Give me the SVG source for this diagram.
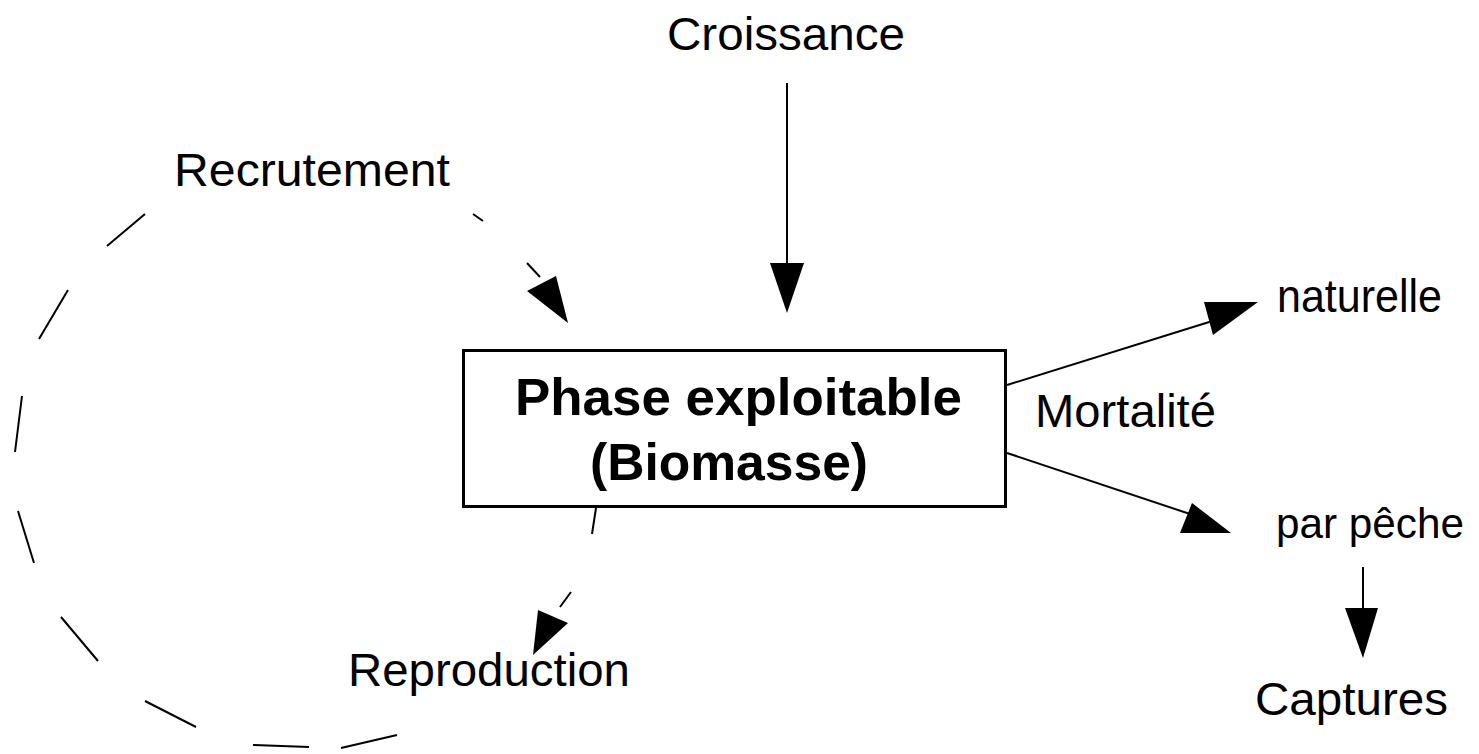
<svg xmlns="http://www.w3.org/2000/svg" width="1479" height="754" viewBox="0 0 1479 754">
<style>
.t{font-family:"Liberation Sans",Arial,sans-serif;font-size:47px;fill:#000}
.b{font-family:"Liberation Sans",Arial,sans-serif;font-size:52px;font-weight:bold;fill:#000}
.ln{stroke:#000;stroke-width:2;fill:none}
.ah{fill:#000;stroke:none}
</style>
<rect width="1479" height="754" fill="#fff"/>
<g id="box">
<rect x="463.5" y="350.5" width="542" height="156" fill="#fff" stroke="#000" stroke-width="3"/>
<text class="b" x="515" y="415" textLength="447" lengthAdjust="spacingAndGlyphs">Phase exploitable</text>
<text class="b" x="590" y="480" textLength="278" lengthAdjust="spacingAndGlyphs">(Biomasse)</text>
</g>
<g id="croissance"><text class="t" x="667" y="50" textLength="238" lengthAdjust="spacingAndGlyphs">Croissance</text></g>
<g id="recrutement"><text class="t" x="174" y="186" textLength="276" lengthAdjust="spacingAndGlyphs">Recrutement</text></g>
<g id="reproduction"><text class="t" x="348" y="686" textLength="282" lengthAdjust="spacingAndGlyphs">Reproduction</text></g>
<g id="mortalite"><text class="t" x="1035" y="427" textLength="181" lengthAdjust="spacingAndGlyphs">Mortalité</text></g>
<g id="naturelle"><text class="t" x="1277" y="312" textLength="165" lengthAdjust="spacingAndGlyphs">naturelle</text></g>
<g id="parpeche"><text class="t" x="1276" y="538" style="font-size:43px" textLength="188" lengthAdjust="spacingAndGlyphs">par pêche</text></g>
<g id="captures"><text class="t" x="1255" y="715" textLength="193" lengthAdjust="spacingAndGlyphs">Captures</text></g>
<g id="connectors">
<!-- Croissance -> box -->
<line class="ln" x1="787" y1="83" x2="787" y2="280"/>
<polygon class="ah" points="770,263 804,263 787,313"/>
<!-- box -> naturelle -->
<line class="ln" x1="1007" y1="385" x2="1222" y2="318"/>
<polygon class="ah" points="1204,302 1258,302 1213,335"/>
<!-- box -> par peche -->
<line class="ln" x1="1007" y1="453" x2="1196" y2="516"/>
<polygon class="ah" points="1192,503 1180,533 1231,533"/>
<!-- par peche -> Captures -->
<line class="ln" x1="1363" y1="567" x2="1363" y2="620"/>
<polygon class="ah" points="1345,608 1378,608 1363,658"/>
<!-- dashed cycle: box -> Reproduction -> Recrutement -> box -->
<path class="ln" d="M596,508 L592,534 M571,592 L560,607 M397,735 L341,748 M309,747 L253,745 M196,727 L145,701 M98,661 L61,617 M34,563 L18,511 M15,452 L22,396 M39,339 L68,290 M107,246 L145,214 M473,214 L483,221 M527,263 L540,277"/>
<polygon class="ah" points="538,610 568,623 533,655"/>
<polygon class="ah" points="527,291 556,276 568,323"/>
</g>
</svg>
